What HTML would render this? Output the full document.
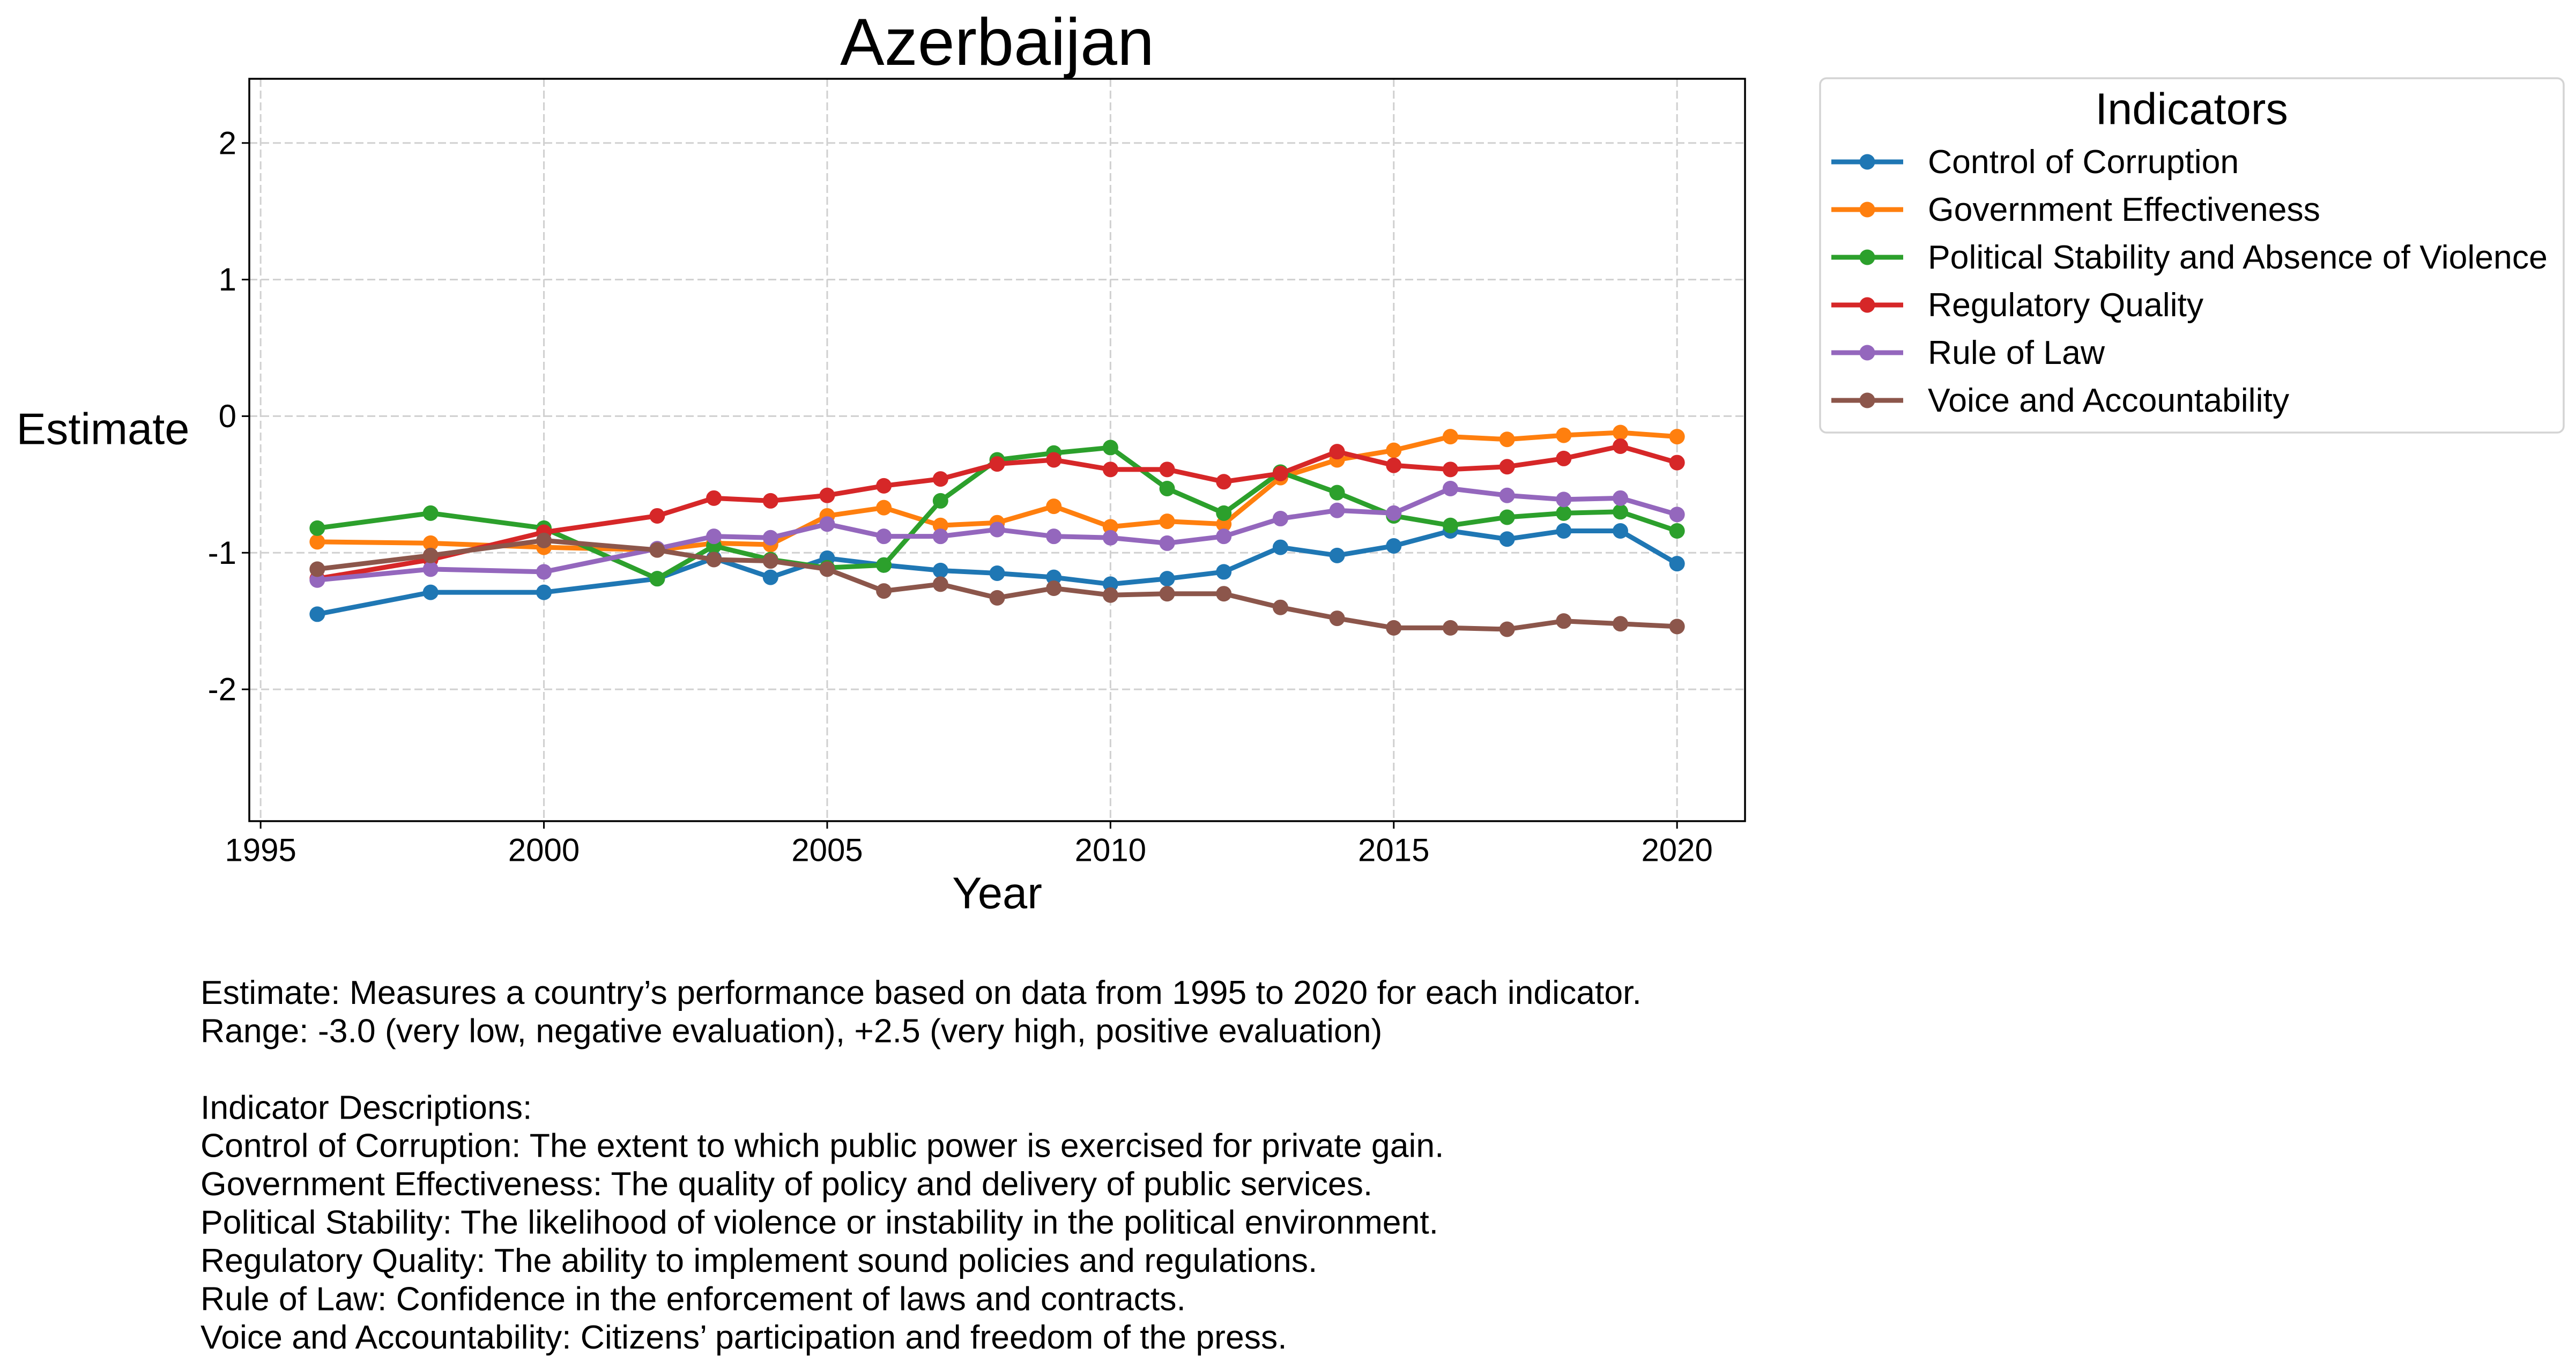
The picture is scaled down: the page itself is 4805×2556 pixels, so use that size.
<!DOCTYPE html>
<html><head><meta charset="utf-8"><style>
html,body{margin:0;padding:0;background:#fff;}
svg{display:block;font-family:"Liberation Sans",Arial,sans-serif;}
</style></head><body>
<svg id="chart" width="4805" height="2556" viewBox="0 0 4805 2556" xmlns="http://www.w3.org/2000/svg">
<rect width="4805" height="2556" fill="#fff"/>
<text x="1860" y="79" font-size="124" text-anchor="middle" dominant-baseline="central">Azerbaijan</text>
<g id="grid"></g>
<g id="series"></g>
<rect x="465" y="147" width="2790" height="1385" fill="none" stroke="#000" stroke-width="3.5"/>
<g id="ticks"></g>
<text x="192" y="800" font-size="83" text-anchor="middle" dominant-baseline="central">Estimate</text>
<text x="1860" y="1666" font-size="83" text-anchor="middle" dominant-baseline="central">Year</text>
<g>
<rect x="3395" y="146" width="1387" height="661" rx="12" fill="#fff" stroke="#d4d4d4" stroke-width="3.5"/>
<text x="4088" y="203" font-size="83" text-anchor="middle" dominant-baseline="central">Indicators</text>
<g id="legend-entries"></g>
</g>
<g font-size="62.5">
<text x="374" y="1852" dominant-baseline="central">Estimate: Measures a country’s performance based on data from 1995 to 2020 for each indicator.</text>
<text x="374" y="1923.4" dominant-baseline="central">Range: -3.0 (very low, negative evaluation), +2.5 (very high, positive evaluation)</text>
<text x="374" y="2066.3" dominant-baseline="central">Indicator Descriptions:</text>
<text x="374" y="2137.7" dominant-baseline="central">Control of Corruption: The extent to which public power is exercised for private gain.</text>
<text x="374" y="2209.1" dominant-baseline="central">Government Effectiveness: The quality of policy and delivery of public services.</text>
<text x="374" y="2280.6" dominant-baseline="central">Political Stability: The likelihood of violence or instability in the political environment.</text>
<text x="374" y="2352" dominant-baseline="central">Regulatory Quality: The ability to implement sound policies and regulations.</text>
<text x="374" y="2423.4" dominant-baseline="central">Rule of Law: Confidence in the enforcement of laws and contracts.</text>
<text x="374" y="2495" dominant-baseline="central">Voice and Accountability: Citizens’ participation and freedom of the press.</text>
</g>
</svg>
<script>
const years = [1996,1998,2000,2002,2003,2004,2005,2006,2007,2008,2009,2010,2011,2012,2013,2014,2015,2016,2017,2018,2019,2020];
const seriesNames = ["Control of Corruption","Government Effectiveness","Political Stability and Absence of Violence","Regulatory Quality","Rule of Law","Voice and Accountability"];
const controlOfCorruption = [-1.45,-1.29,-1.29,-1.19,-1.04,-1.18,-1.04,-1.09,-1.13,-1.15,-1.18,-1.23,-1.19,-1.14,-0.96,-1.02,-0.95,-0.84,-0.90,-0.84,-0.84,-1.08];
const governmentEffectiveness = [-0.92,-0.93,-0.96,-0.98,-0.93,-0.94,-0.73,-0.67,-0.80,-0.78,-0.66,-0.81,-0.77,-0.79,-0.45,-0.32,-0.25,-0.15,-0.17,-0.14,-0.12,-0.15];
const politicalStability = [-0.82,-0.71,-0.82,-1.19,-0.95,-1.05,-1.11,-1.09,-0.62,-0.32,-0.27,-0.23,-0.53,-0.71,-0.41,-0.56,-0.73,-0.80,-0.74,-0.71,-0.70,-0.84];
const regulatoryQuality = [-1.19,-1.05,-0.85,-0.73,-0.60,-0.62,-0.58,-0.51,-0.46,-0.35,-0.32,-0.39,-0.39,-0.48,-0.42,-0.26,-0.36,-0.39,-0.37,-0.31,-0.22,-0.34];
const ruleOfLaw = [-1.20,-1.12,-1.14,-0.97,-0.88,-0.89,-0.79,-0.88,-0.88,-0.83,-0.88,-0.89,-0.93,-0.88,-0.75,-0.69,-0.71,-0.53,-0.58,-0.61,-0.60,-0.72];
const voiceAccountability = [-1.12,-1.02,-0.91,-0.98,-1.05,-1.06,-1.12,-1.28,-1.23,-1.33,-1.26,-1.31,-1.30,-1.30,-1.40,-1.48,-1.55,-1.55,-1.56,-1.50,-1.52,-1.54];
const xTicks = [1995,2000,2005,2010,2015,2020];
const yTicks = [-2,-1,0,1,2];
const yTickLabels = ["-2","-1","0","1","2"];

const colors = ["#1f77b4","#ff7f0e","#2ca02c","#d62728","#9467bd","#8c564b"];
const allSeries = [controlOfCorruption,governmentEffectiveness,politicalStability,regulatoryQuality,ruleOfLaw,voiceAccountability];
const L=465,R=3255,T=147,B=1532, xMin=1994.8,xMax=2021.2,yMin=-2.965,yMax=2.47;
const xS=v=>L+(v-xMin)/(xMax-xMin)*(R-L);
const yS=v=>B-(v-yMin)/(yMax-yMin)*(B-T);
const NS="http://www.w3.org/2000/svg";
function mk(tag,attrs,parent){const e=document.createElementNS(NS,tag);for(const k in attrs)e.setAttribute(k,attrs[k]);parent.appendChild(e);return e;}
const grid=document.getElementById('grid'),ticks=document.getElementById('ticks'),ser=document.getElementById('series');
xTicks.forEach(t=>{
  const x=xS(t);
  const g=mk('line',{x1:x,x2:x,y1:T,y2:B,stroke:'#d0d0d0','stroke-width':3,'stroke-dasharray':'15,7'},grid);
  
  
  const tk=mk('line',{x1:x,x2:x,y1:B,y2:B+14,stroke:'#000','stroke-width':3},ticks);
  
  
  const tl=mk('text',{x:x,y:1586,'font-size':60,'text-anchor':'middle','dominant-baseline':'central'},ticks);
  tl.textContent=t;
  
  
});
yTicks.forEach((t,i)=>{
  const y=yS(t);
  const g=mk('line',{x1:L,x2:R,y1:y,y2:y,stroke:'#d0d0d0','stroke-width':3,'stroke-dasharray':'15,7'},grid);
  
  
  const tk=mk('line',{x1:L-14,x2:L,y1:y,y2:y,stroke:'#000','stroke-width':3},ticks);
  
  
  const tl=mk('text',{x:L-24,y:y,'font-size':60,'text-anchor':'end','dominant-baseline':'central'},ticks);
  tl.textContent=yTickLabels[i];
  
  
});
allSeries.forEach((vals,si)=>{
  const g=mk('g',{},ser);
  
  
  const pts=vals.map((v,i)=>xS(years[i])+','+yS(v)).join(' ');
  const pl=mk('polyline',{points:pts,fill:'none',stroke:colors[si],'stroke-width':9,'stroke-linejoin':'round'},g);
  
  
  vals.forEach((v,i)=>{
    const c=mk('circle',{cx:xS(years[i]),cy:yS(v),r:14.5,fill:colors[si]},g);
    
    
  });
});
const le=document.getElementById('legend-entries');
seriesNames.forEach((n,i)=>{
  const y=302+i*89;
  const g=mk('g',{},le);
  
  
  mk('line',{x1:3416,x2:3550,y1:y,y2:y,stroke:colors[i],'stroke-width':9},g);
  mk('circle',{cx:3483,cy:y,r:14.5,fill:colors[i]},g);
  const t=mk('text',{x:3596,y:y,'font-size':62.5,'dominant-baseline':'central'},g);
  t.textContent=n;
});
</script>
</body></html>
